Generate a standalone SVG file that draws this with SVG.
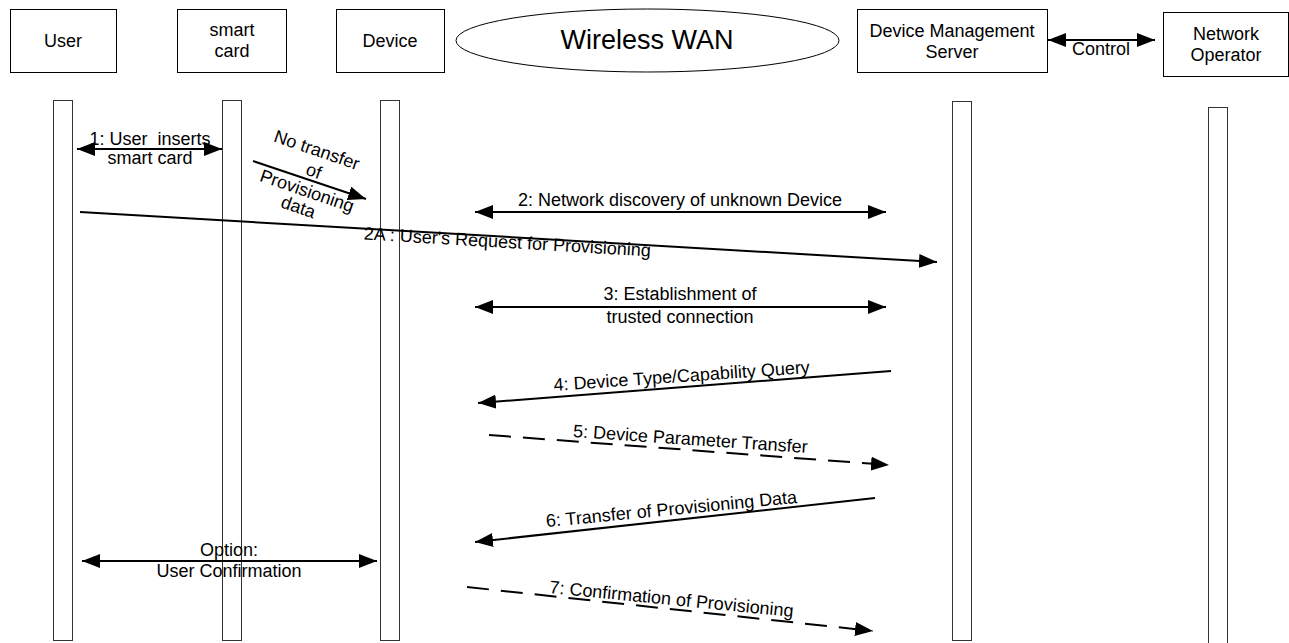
<svg xmlns="http://www.w3.org/2000/svg" width="1289" height="643" viewBox="0 0 1289 643">
<style>
  .box{fill:#fff;stroke:#000;stroke-width:1}
  .life{fill:#fff;stroke:#333;stroke-width:1}
  .t{font-family:"Liberation Sans",Arial,sans-serif;font-size:18px;fill:#000;text-anchor:middle}
  .big{font-size:27px}
  .msg{stroke:#000;stroke-width:2;fill:none;marker-end:url(#ah)}
  .dbl{marker-start:url(#ah)}
  .dash{stroke-dasharray:22 12}
</style>
<defs>
  <marker id="ah" markerUnits="userSpaceOnUse" markerWidth="20" markerHeight="14" refX="18" refY="7" orient="auto-start-reverse">
    <path d="M0,0 L18,7 L0,14 Z" fill="#000"/>
  </marker>
</defs>
<rect width="1289" height="643" fill="#fff"/>

<g id="user"><rect class="box" x="10.5" y="9.5" width="106" height="63"/><text class="t" x="63" y="47">User</text>
  <rect class="life" x="53.5" y="100.5" width="19" height="540"/></g>
<g id="smartcard"><rect class="box" x="177.5" y="9.5" width="109" height="63"/><text class="t" x="232" y="36">smart</text><text class="t" x="232" y="57">card</text>
  <rect class="life" x="222.5" y="100.5" width="19" height="540"/></g>
<g id="device"><rect class="box" x="336.5" y="9.5" width="108" height="63"/><text class="t" x="390" y="47">Device</text>
  <rect class="life" x="380.5" y="100.5" width="19" height="540"/></g>
<g id="wan"><ellipse class="box" cx="647.5" cy="40.5" rx="191.5" ry="31.5"/><text class="t big" x="647" y="49">Wireless WAN</text></g>
<g id="dms"><rect class="box" x="857.5" y="9.5" width="190" height="63"/><text class="t" x="952" y="37">Device Management</text><text class="t" x="952" y="58">Server</text>
  <rect class="life" x="952.5" y="101.5" width="19" height="539"/></g>
<g id="operator"><rect class="box" x="1163.5" y="12.5" width="125" height="64"/><text class="t" x="1226" y="40">Network</text><text class="t" x="1226" y="61">Operator</text>
  <rect class="life" x="1208.5" y="107.5" width="19" height="540"/></g>

<g id="connectors">
  <line class="msg dbl" x1="1048" y1="40" x2="1155" y2="40"/>
  <text class="t" x="1101" y="55">Control</text>

  <line class="msg dbl" x1="77" y1="149" x2="222" y2="149"/>
  <text class="t" x="150" y="145" xml:space="preserve">1: User  inserts</text>
  <text class="t" x="150" y="164">smart card</text>

  <line class="msg" x1="253" y1="161" x2="366" y2="199"/>
  <g transform="translate(309,179) rotate(19)">
    <text class="t" x="-2" y="-24">No transfer</text>
    <text class="t" x="2" y="-3">of</text>
    <text class="t" x="2" y="18">Provisioning</text>
    <text class="t" x="-1" y="36">data</text>
  </g>

  <line class="msg dbl" x1="475" y1="212" x2="886" y2="212"/>
  <text class="t" x="680" y="206">2: Network discovery of unknown Device</text>

  <line class="msg" x1="80" y1="212" x2="937" y2="262"/>
  <text class="t" transform="translate(507,248) rotate(3.4)" x="0" y="0">2A : User's Request for Provisioning</text>

  <line class="msg dbl" x1="475" y1="307" x2="886" y2="307"/>
  <text class="t" x="680" y="300">3: Establishment of</text>
  <text class="t" x="680" y="323">trusted connection</text>

  <line class="msg" x1="891" y1="371" x2="478" y2="403"/>
  <text class="t" transform="translate(682,382) rotate(-4)" x="0" y="0">4: Device Type/Capability Query</text>

  <line class="msg dash" x1="489" y1="435" x2="889" y2="465"/>
  <text class="t" transform="translate(690,445) rotate(3.9)" x="0" y="0">5: Device Parameter Transfer</text>

  <line class="msg" x1="875" y1="498" x2="475" y2="542"/>
  <text class="t" transform="translate(672,515) rotate(-5.5)" x="0" y="0">6: Transfer of Provisioning Data</text>

  <line class="msg dbl" x1="82" y1="561" x2="377" y2="561"/>
  <text class="t" x="229" y="556">Option:</text>
  <text class="t" x="229" y="577">User Confirmation</text>

  <line class="msg dash" x1="467" y1="587" x2="873" y2="631"/>
  <text class="t" transform="translate(671,605) rotate(5.6)" x="0" y="0">7: Confirmation of Provisioning</text>
</g>
</svg>
